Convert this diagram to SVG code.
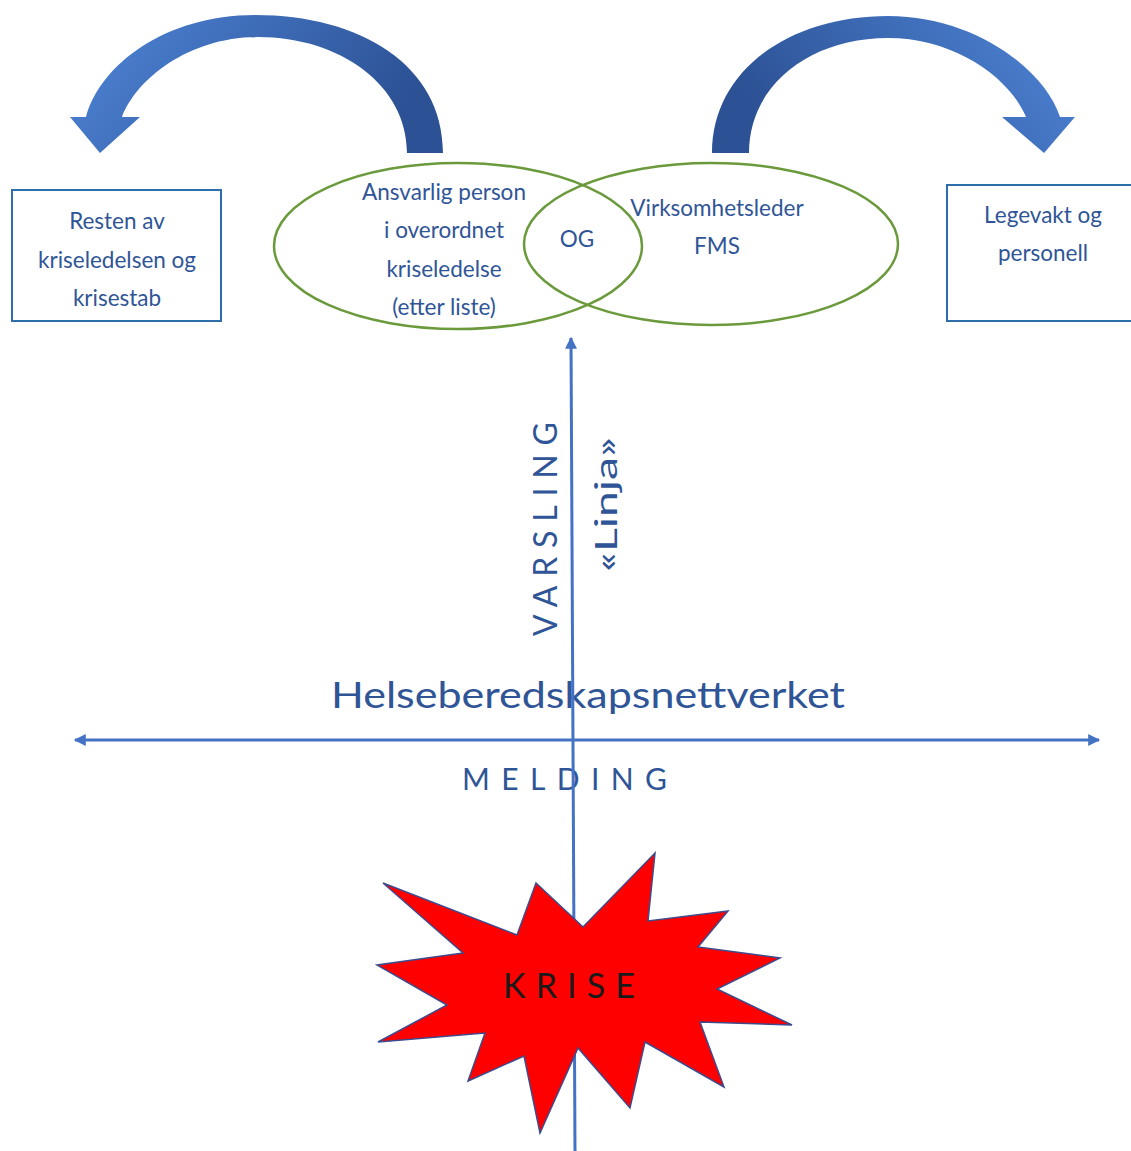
<svg xmlns="http://www.w3.org/2000/svg" width="1131" height="1151" viewBox="0 0 1131 1151">
<defs>
<style>
.lbl{font-family:Lato,"Liberation Sans",sans-serif;font-size:22.5px;fill:#2f5597;text-anchor:middle}
.box{fill:#fff;stroke:#2e6fab;stroke-width:2}
.ell{fill:none;stroke:#6b9a3c;stroke-width:2.5}
.ax{stroke:#4472c4;stroke-width:3;fill:none}
.big{font-family:Lato,"Liberation Sans",sans-serif;fill:#2f5597}
</style>
<linearGradient id="gl" x1="0" y1="0" x2="1" y2="0.3">
<stop offset="0" stop-color="#4f86d8"/>
<stop offset="1" stop-color="#2c5194"/>
</linearGradient>
<linearGradient id="gr" x1="0" y1="0.3" x2="1" y2="0">
<stop offset="0" stop-color="#2c5194"/>
<stop offset="1" stop-color="#4f86d8"/>
</linearGradient>
<marker id="ah" viewBox="0 0 10 10" refX="9" refY="5" markerWidth="13" markerHeight="12" markerUnits="userSpaceOnUse" orient="auto-start-reverse">
<path d="M0,0 L10,5 L0,10 Z" fill="#4472c4"/>
</marker>
</defs>
<rect width="1131" height="1151" fill="#fff"/>

<g id="connectors">
<path id="arrow-left" d="M443,153 C443,65 360,15 255,15 C165,15 100,65 86,117 L70,117 L100,153 L140,117 L122,117 C137,78 190,37 258,37 C340,37 407,85 407,153 Z" fill="url(#gl)"/>
<path id="arrow-right" d="M712,153 C712,70 790,16 888,16 C975,16 1045,70 1060,117 L1075,117 L1044,153 L1002,117 L1026,117 C1010,78 955,38 888,38 C810,38 749,85 749,153 Z" fill="url(#gr)"/>
<line class="ax" x1="75" y1="740" x2="1099" y2="740" marker-start="url(#ah)" marker-end="url(#ah)"/>
</g>

<g id="labels-axis">
<text class="big" x="331" y="708" font-size="37" textLength="514" lengthAdjust="spacingAndGlyphs">Helseberedskapsnettverket</text>
<text class="big" x="462" y="790" font-size="30" textLength="205" lengthAdjust="spacing">MELDING</text>
<text class="big" font-size="32" transform="translate(557,636) rotate(-90)" textLength="214" lengthAdjust="spacing">VARSLING</text>
<text class="big" font-size="31" transform="translate(617,572) rotate(-90)" textLength="135" lengthAdjust="spacingAndGlyphs">«Linja»</text>
</g>

<g id="vline">
<line class="ax" x1="575" y1="1151" x2="571" y2="338" marker-end="url(#ah)"/>
</g>

<g id="node-left">
<rect class="box" x="12" y="190" width="209" height="131"/>
<text class="lbl" x="117" y="229">Resten av</text>
<text class="lbl" x="117" y="268">kriseledelsen og</text>
<text class="lbl" x="117" y="306">krisestab</text>
</g>

<g id="node-right">
<rect class="box" x="947" y="185" width="190" height="136"/>
<text class="lbl" x="1043" y="223">Legevakt og</text>
<text class="lbl" x="1043" y="261">personell</text>
</g>

<g id="node-ansvarlig">
<ellipse class="ell" cx="458" cy="246" rx="184" ry="83"/>
<text class="lbl" x="444" y="200">Ansvarlig person</text>
<text class="lbl" x="444" y="238">i overordnet</text>
<text class="lbl" x="444" y="277">kriseledelse</text>
<text class="lbl" x="444" y="315">(etter liste)</text>
</g>

<g id="node-virksomhet">
<ellipse class="ell" cx="711" cy="244" rx="187" ry="81"/>
<text class="lbl" x="717" y="216">Virksomhetsleder</text>
<text class="lbl" x="717" y="254">FMS</text>
</g>

<g id="node-og">
<text class="lbl" x="577" y="247">OG</text>
</g>

<g id="node-krise">
<polygon points="383,883 517,935 536,883 583,927 655,853 648,921 728,911 698,947 780,958 717,989 792,1025 700,1022 724,1087 645,1042 630,1108 578,1048 540,1133 524,1056 468,1081 485,1033 378,1042 447,1005 377,965 463,953" fill="#ff0000" stroke="#3d4a8c" stroke-width="1.5" stroke-linejoin="miter"/>
<text x="503" y="998" font-family="Lato,'Liberation Sans',sans-serif" font-size="34" fill="#1a1a1a" textLength="132" lengthAdjust="spacing">KRISE</text>
</g>
</svg>
